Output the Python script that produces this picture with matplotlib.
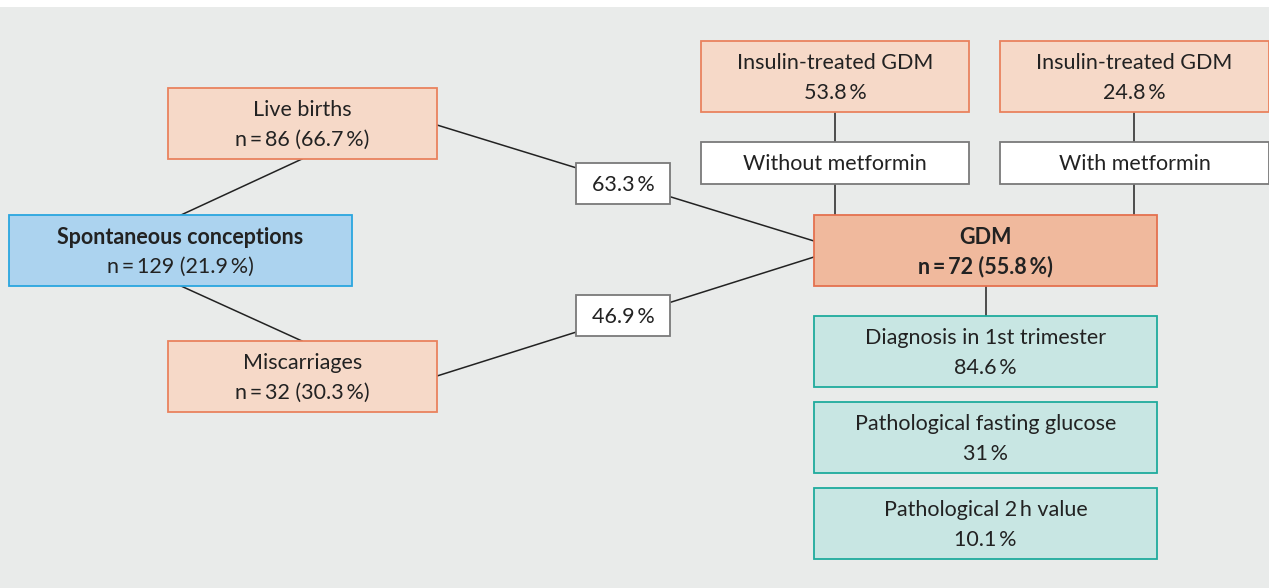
import matplotlib.pyplot as plt
from matplotlib.patches import Rectangle

plt.rcParams['font.family'] = ['Lato', 'DejaVu Sans']

# data
conception_n, conception_pct = 129, 21.9
outcome_labels = ['Live births', 'Miscarriages']
outcome_n = [86, 32]
outcome_pct = [66.7, 30.3]
gdm_rate = [63.3, 46.9]          # GDM rate per outcome
gdm_n, gdm_pct = 72, 55.8
metformin_labels = ['Without metformin', 'With metformin']
insulin_pct = [53.8, 24.8]
detail_labels = ['Diagnosis in 1st trimester', 'Pathological fasting glucose',
                 'Pathological 2\u2009h value']
detail_pct = ['84.6', '31', '10.1']

TS = '\u2009'
BG = '#e9ebea'
SALMON = ('#f6d9c8', '#e9825e')
BLUE = ('#acd3ef', '#2aa6df')
GDM_C = ('#f0b99d', '#e4714f')
TEAL = ('#c8e6e3', '#1fab9d')
WHITE = ('white', '#7a7a7a')

fig = plt.figure(figsize=(12.69, 5.88), dpi=100)
ax = fig.add_axes([0, 0, 1, 1])
ax.set_xlim(0, 1269)
ax.set_ylim(588, 0)
ax.axis('off')
ax.add_patch(Rectangle((0, 7), 1269, 581, facecolor=BG, edgecolor='none', zorder=0))


def box(x0, y0, x1, y1, colors, lines, bold=False, fs=15.5):
    ax.add_patch(Rectangle((x0, y0), x1 - x0, y1 - y0, facecolor=colors[0],
                           edgecolor=colors[1], lw=1.3, zorder=3))
    cx = (x0 + x1) / 2
    cy = (y0 + y1) / 2 + 1.5
    n = len(lines)
    for i, t in enumerate(lines):
        y = cy + (i - (n - 1) / 2) * 30
        w = 'bold' if (bold is True or (isinstance(bold, list) and bold[i])) else 'normal'
        ax.text(cx, y, t, ha='center', va='center', fontsize=fs, color='#222222',
                fontweight=w, zorder=4)


def line(p, q):
    ax.plot([p[0], q[0]], [p[1], q[1]], color='#222222', lw=1.1, zorder=2)


def npct(n, p):
    return f'n{TS}={TS}{n} ({p}{TS}%)'


# connectors
line((181, 215), (302, 159))
line((181, 286), (302, 341))
line((437, 125), (814, 241))
line((437, 376), (814, 257))
for x in (835, 1134):
    line((x, 112), (x, 215))
line((986, 286), (986, 316))

box(9, 215, 352, 286, BLUE, ['Spontaneous conceptions', npct(conception_n, conception_pct)],
    bold=[True, False])
for (y0, y1), lab, n, p in zip([(88, 159), (341, 412)], outcome_labels, outcome_n, outcome_pct):
    box(168, y0, 437, y1, SALMON, [lab, npct(n, p)])
for (y0, y1), r in zip([(163, 204), (295, 336)], gdm_rate):
    box(576, y0, 670, y1, WHITE, [f'{r}{TS}%'])
box(814, 215, 1157, 286, GDM_C, ['GDM', npct(gdm_n, gdm_pct)], bold=True)
for (x0, x1), lab, p in zip([(701, 969), (1000, 1269)], metformin_labels, insulin_pct):
    box(x0, 41, x1, 112, SALMON, ['Insulin-treated GDM', f'{p}{TS}%'])
    box(x0, 142, x1, 184, WHITE, [lab])
for (y0, y1), lab, p in zip([(316, 387), (402, 473), (488, 559)], detail_labels, detail_pct):
    box(814, y0, 1157, y1, TEAL, [lab, f'{p}{TS}%'])

fig.savefig('out.png', dpi=100)
